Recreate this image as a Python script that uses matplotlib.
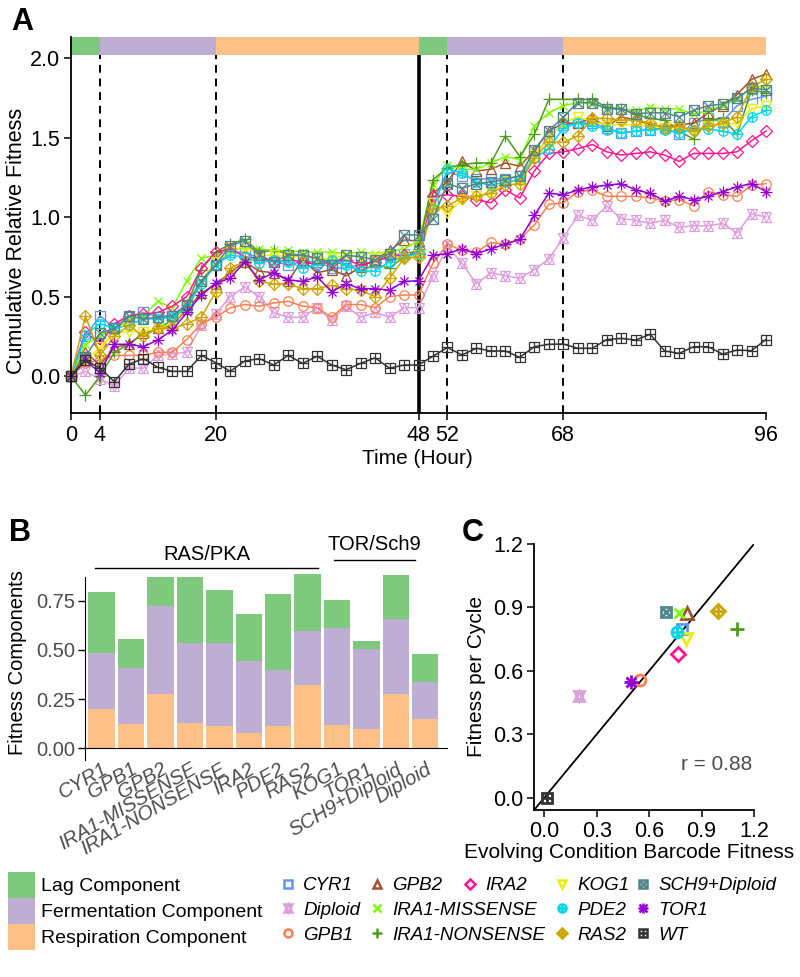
import numpy as np
import matplotlib
matplotlib.use("Agg")
import matplotlib.pyplot as plt
from matplotlib.lines import Line2D
from matplotlib.patches import Patch
from matplotlib.legend_handler import HandlerTuple

plt.rcParams['font.family'] = ['Liberation Sans', 'DejaVu Sans']

# ---------------- data ----------------
hours = np.arange(0, 97, 2)

phase_start = [0, 4, 20, 48, 52, 68]
phase_end = [4, 20, 48, 52, 68, 96]
phase_name = ['Lag', 'Fermentation', 'Respiration', 'Lag', 'Fermentation', 'Respiration']
dashed_hours = [4, 20, 52, 68]
transfer_hour = 48
time_ticks = [0, 4, 20, 48, 52, 68, 96]

cyr1 = [0.00, 0.25, 0.38, 0.30, 0.37, 0.40, 0.37, 0.38, 0.45, 0.60, 0.70, 0.78, 0.78,
        0.74, 0.72, 0.70, 0.72, 0.72, 0.68, 0.68, 0.70, 0.72, 0.76, 0.77, 0.78,
        1.10, 1.28, 1.26, 1.24, 1.24, 1.24, 1.26, 1.38, 1.51, 1.58, 1.59, 1.59,
        1.56, 1.53, 1.54, 1.55, 1.56, 1.52, 1.59, 1.62, 1.60, 1.70, 1.74, 1.76]
diploid = [0.00, 0.03, -0.02, -0.06, 0.05, 0.05, 0.13, 0.14, 0.15, 0.32, 0.39, 0.50, 0.56,
           0.50, 0.40, 0.37, 0.37, 0.43, 0.35, 0.44, 0.37, 0.40, 0.37, 0.43, 0.43,
           0.63, 0.815, 0.71, 0.58, 0.65, 0.63, 0.615, 0.67, 0.735, 0.87, 1.01, 0.98,
           1.07, 0.99, 0.98, 0.96, 0.98, 0.935, 0.945, 0.945, 0.96, 0.90, 1.02, 1.00]
gpb1 = [0.00, 0.08, 0.10, 0.13, 0.13, 0.13, 0.15, 0.15, 0.23, 0.33, 0.37, 0.43, 0.45,
        0.44, 0.46, 0.47, 0.44, 0.43, 0.37, 0.45, 0.45, 0.43, 0.50, 0.51, 0.51,
        0.71, 0.83, 0.79, 0.78, 0.84, 0.83, 0.86, 0.95, 1.08, 1.09, 1.16, 1.17,
        1.13, 1.13, 1.13, 1.12, 1.10, 1.11, 1.07, 1.16, 1.14, 1.13, 1.20, 1.21]
gpb2 = [0.00, 0.15, 0.07, 0.18, 0.20, 0.27, 0.30, 0.32, 0.42, 0.52, 0.58, 0.65, 0.72,
        0.66, 0.65, 0.60, 0.73, 0.65, 0.67, 0.63, 0.685, 0.73, 0.79, 0.855, 0.85,
        1.15, 1.22, 1.35, 1.29, 1.30, 1.34, 1.32, 1.42, 1.54, 1.59, 1.59, 1.62,
        1.57, 1.63, 1.61, 1.58, 1.57, 1.58, 1.59, 1.655, 1.70, 1.77, 1.865, 1.90]
ira1_missense = [0.00, 0.20, 0.25, 0.30, 0.35, 0.38, 0.47, 0.43, 0.60, 0.74, 0.76, 0.80, 0.80,
                 0.80, 0.79, 0.79, 0.78, 0.78, 0.78, 0.77, 0.78, 0.77, 0.78, 0.80, 0.85,
                 1.20, 1.33, 1.30, 1.30, 1.34, 1.38, 1.36, 1.575, 1.655, 1.70, 1.72, 1.71,
                 1.69, 1.68, 1.67, 1.69, 1.68, 1.68, 1.645, 1.67, 1.70, 1.74, 1.81, 1.83]
ira1_nonsense = [0.00, -0.12, 0.00, 0.15, 0.20, 0.27, 0.30, 0.35, 0.45, 0.67, 0.78, 0.83, 0.86,
                 0.78, 0.79, 0.77, 0.76, 0.74, 0.72, 0.70, 0.66, 0.70, 0.68, 0.75, 0.80,
                 1.235, 1.31, 1.33, 1.34, 1.34, 1.51, 1.38, 1.52, 1.74, 1.74, 1.74, 1.74,
                 1.69, 1.68, 1.645, 1.62, 1.61, 1.54, 1.49, 1.61, 1.62, 1.52, 1.80, 1.78]
ira2 = [0.00, 0.28, 0.20, 0.33, 0.38, 0.39, 0.40, 0.44, 0.50, 0.68, 0.78, 0.80, 0.75,
        0.74, 0.72, 0.73, 0.72, 0.70, 0.72, 0.73, 0.70, 0.72, 0.75, 0.76, 0.77,
        1.13, 1.14, 1.13, 1.11, 1.09, 1.17, 1.12, 1.29, 1.40, 1.41, 1.43, 1.456,
        1.41, 1.39, 1.40, 1.41, 1.39, 1.35, 1.40, 1.40, 1.40, 1.41, 1.48, 1.54]
kog1 = [0.00, 0.10, 0.18, 0.27, 0.28, 0.28, 0.30, 0.33, 0.43, 0.60, 0.72, 0.78, 0.82,
        0.76, 0.76, 0.75, 0.75, 0.74, 0.74, 0.76, 0.75, 0.74, 0.76, 0.74, 0.76,
        1.09, 1.025, 1.11, 1.13, 1.16, 1.225, 1.225, 1.39, 1.50, 1.59, 1.63, 1.60,
        1.58, 1.58, 1.58, 1.57, 1.56, 1.56, 1.54, 1.57, 1.58, 1.59, 1.68, 1.70]
pde2 = [0.00, 0.26, 0.33, 0.30, 0.32, 0.36, 0.36, 0.37, 0.43, 0.58, 0.70, 0.76, 0.75,
        0.71, 0.73, 0.72, 0.68, 0.70, 0.73, 0.70, 0.66, 0.66, 0.72, 0.75, 0.77,
        1.05, 1.30, 1.28, 1.22, 1.20, 1.22, 1.235, 1.37, 1.43, 1.56, 1.59, 1.575,
        1.55, 1.53, 1.54, 1.55, 1.55, 1.53, 1.55, 1.555, 1.54, 1.52, 1.63, 1.67]
ras2 = [0.00, 0.38, 0.13, 0.25, 0.32, 0.25, 0.30, 0.30, 0.33, 0.37, 0.53, 0.68, 0.72,
        0.595, 0.58, 0.58, 0.55, 0.55, 0.57, 0.55, 0.54, 0.50, 0.615, 0.74, 0.75,
        1.05, 1.07, 1.12, 1.13, 1.15, 1.20, 1.21, 1.37, 1.47, 1.47, 1.51, 1.62,
        1.62, 1.61, 1.61, 1.59, 1.56, 1.57, 1.54, 1.57, 1.59, 1.63, 1.82, 1.865]
sch9_diploid = [0.00, 0.12, 0.27, 0.30, 0.38, 0.36, 0.37, 0.38, 0.45, 0.60, 0.70, 0.82, 0.85,
                0.76, 0.72, 0.76, 0.76, 0.74, 0.70, 0.76, 0.75, 0.73, 0.77, 0.89, 0.885,
                0.99, 1.21, 1.18, 1.21, 1.22, 1.235, 1.26, 1.42, 1.54, 1.63, 1.72, 1.72,
                1.68, 1.68, 1.65, 1.655, 1.655, 1.63, 1.67, 1.70, 1.71, 1.75, 1.81, 1.80]
tor1 = [0.00, 0.10, 0.02, 0.20, 0.20, 0.185, 0.227, 0.29, 0.40, 0.51, 0.584, 0.615, 0.72,
        0.605, 0.65, 0.605, 0.595, 0.625, 0.53, 0.58, 0.55, 0.55, 0.54, 0.595, 0.60,
        0.76, 0.77, 0.80, 0.77, 0.80, 0.83, 0.86, 1.01, 1.15, 1.14, 1.17, 1.19,
        1.20, 1.21, 1.17, 1.15, 1.10, 1.13, 1.11, 1.13, 1.16, 1.19, 1.21, 1.16]
wt = [0.00, 0.10, 0.05, -0.035, 0.075, 0.11, 0.055, 0.03, 0.03, 0.13, 0.085, 0.03, 0.095,
      0.11, 0.07, 0.13, 0.08, 0.125, 0.07, 0.04, 0.08, 0.115, 0.05, 0.07, 0.07,
      0.125, 0.18, 0.133, 0.175, 0.158, 0.158, 0.118, 0.185, 0.20, 0.202, 0.175, 0.175,
      0.23, 0.237, 0.227, 0.263, 0.158, 0.143, 0.185, 0.185, 0.139, 0.164, 0.16, 0.23]

strains = ['CYR1', 'Diploid', 'GPB1', 'GPB2', 'IRA1-MISSENSE', 'IRA1-NONSENSE', 'IRA2',
           'KOG1', 'PDE2', 'RAS2', 'SCH9+Diploid', 'TOR1', 'WT']
cumulative_fitness = dict(zip(strains, [cyr1, diploid, gpb1, gpb2, ira1_missense, ira1_nonsense,
                                        ira2, kog1, pde2, ras2, sch9_diploid, tor1, wt]))

# panel B: fitness components
bar_strains = ['CYR1', 'GPB1', 'GPB2', 'IRA1-MISSENSE', 'IRA1-NONSENSE', 'IRA2', 'PDE2',
               'RAS2', 'KOG1', 'TOR1', 'SCH9+Diploid', 'Diploid']
respiration = [0.198, 0.125, 0.278, 0.127, 0.112, 0.078, 0.112, 0.322, 0.120, 0.096, 0.278, 0.151]
fermentation = [0.288, 0.281, 0.445, 0.410, 0.425, 0.364, 0.288, 0.276, 0.491, 0.408, 0.379, 0.184]
lag = [0.310, 0.148, 0.147, 0.335, 0.269, 0.239, 0.384, 0.287, 0.142, 0.041, 0.223, 0.146]
group_names = ['RAS/PKA', 'TOR/Sch9']

# panel C: evolving-condition fitness vs fitness per cycle
barcode_fitness = dict(zip(strains, [0.787, 0.199, 0.548, 0.815, 0.773, 1.101, 0.767,
                                     0.811, 0.761, 0.996, 0.695, 0.495, 0.014]))
cycle_fitness = dict(zip(strains, [0.80, 0.481, 0.557, 0.872, 0.872, 0.80, 0.68,
                                   0.749, 0.785, 0.885, 0.88, 0.549, 0.0]))
r_value = 0.88

# ---------------- styles ----------------
component_colors = {'Lag': '#7FC97F', 'Fermentation': '#BEAED4', 'Respiration': '#FDC086'}
strain_colors = {
    'CYR1': '#6495ED', 'Diploid': '#DDA0DD', 'GPB1': '#FF7F50', 'GPB2': '#A0522D',
    'IRA1-MISSENSE': '#7CFC00', 'IRA1-NONSENSE': '#4E9A1E', 'IRA2': '#FF1493',
    'KOG1': '#EEEE00', 'PDE2': '#00D8E8', 'RAS2': '#CDA500', 'SCH9+Diploid': '#53868B',
    'TOR1': '#9400D3', 'WT': '#333333'}
# R-like plotting symbols built from overlaid matplotlib markers (marker, size factor)
strain_markers = {
    'CYR1': [('s', 1.0)], 'Diploid': [('^', 1.05), ('v', 1.05)], 'GPB1': [('o', 1.05)],
    'GPB2': [('^', 1.15)], 'IRA1-MISSENSE': [('x', 0.95)], 'IRA1-NONSENSE': [('+', 1.35)],
    'IRA2': [('D', 0.95)], 'KOG1': [('v', 1.15)], 'PDE2': [('o', 1.05), ('+', 1.05)],
    'RAS2': [('D', 0.95), ('+', 1.34)], 'SCH9+Diploid': [('s', 1.0), ('x', 1.0)],
    'TOR1': [('+', 1.3), ('x', 0.95)], 'WT': [('s', 1.0), ('+', 1.0)]}

gray_text = '#4D4D4D'


def marker_handles(name, ms, mew):
    hs = []
    for m, f in strain_markers[name]:
        hs.append(Line2D([], [], linestyle='none', marker=m, markersize=ms * f,
                         markerfacecolor='none', markeredgecolor=strain_colors[name],
                         markeredgewidth=mew))
    return tuple(hs)


def plot_strain(ax, x, y, name, ms, mew, lw=None):
    for i, (m, f) in enumerate(strain_markers[name]):
        ax.plot(x, y, linestyle='-' if (lw and i == 0) else 'none',
                lw=lw if lw else 0, color=strain_colors[name],
                marker=m, markersize=ms * f, markerfacecolor='none',
                markeredgecolor=strain_colors[name], markeredgewidth=mew, clip_on=False)


def center_labels(ax, xpos, ypos):
    ax.xaxis.label.set_va('center')
    ax.yaxis.label.set_va('center')
    ax.xaxis.set_label_coords(*xpos)
    ax.yaxis.set_label_coords(*ypos)


fig = plt.figure(figsize=(8, 9.77), dpi=100)
W, H = 800.0, 977.0

# ---------------- panel A ----------------
axA = fig.add_axes([71 / W, 1 - 412.7 / H, 695 / W, 375.4 / H])
axA.set_xlim(0, 96)
axA.set_ylim(-0.23, 2.13)
axA.broken_barh([(s, e - s) for s, e in zip(phase_start, phase_end)], (2.02, 0.11),
                facecolors=[component_colors[p] for p in phase_name])
axA.vlines(dashed_hours, -0.23, 2.02, colors='black', linestyles=(0, (4, 3)), lw=1.4)
axA.vlines(transfer_hour, -0.23, 2.02, colors='black', lw=2.6)
for name in strains:
    plot_strain(axA, hours, cumulative_fitness[name], name, ms=6.5, mew=0.9, lw=1.1)
axA.set_xticks(time_ticks)
axA.set_yticks([0.0, 0.5, 1.0, 1.5, 2.0])
axA.set_yticklabels(['0.0', '0.5', '1.0', '1.5', '2.0'])
axA.tick_params(labelsize=15.5, length=5, width=1.1, pad=3)
axA.tick_params(axis='x', pad=4)
for s in ['top', 'right']:
    axA.spines[s].set_visible(False)
for s in ['left', 'bottom']:
    axA.spines[s].set_linewidth(1.3)
axA.set_xlabel('Time (Hour)', fontsize=15)
axA.set_ylabel('Cumulative Relative Fitness', fontsize=15.5)
center_labels(axA, (0.499, -0.121), (-0.078, 0.457))
fig.text(22 / W, 1 - 22 / H, 'A', fontsize=22, fontweight='bold', ha='center', va='center')

# ---------------- panel B ----------------
axB = fig.add_axes([85 / W, 1 - 760 / H, 361.7 / W, 183 / H])
xb = np.arange(len(bar_strains))
axB.bar(xb, respiration, width=0.9, color=component_colors['Respiration'], clip_on=False)
axB.bar(xb, fermentation, width=0.9, bottom=respiration,
        color=component_colors['Fermentation'], clip_on=False)
axB.bar(xb, lag, width=0.9, bottom=np.add(respiration, fermentation),
        color=component_colors['Lag'], clip_on=False)
axB.set_xlim(-0.568, 11.73)
axB.set_ylim(-0.059, 0.87)
axB.spines['bottom'].set_position(('data', 0))
for s in ['top', 'right']:
    axB.spines[s].set_visible(False)
axB.set_yticks([0.0, 0.25, 0.5, 0.75])
axB.set_yticklabels(['0.00', '0.25', '0.50', '0.75'])
axB.tick_params(axis='y', labelsize=14.5, labelcolor=gray_text, length=5, width=1.0, pad=2)
axB.set_xticks(xb)
axB.set_xticklabels(bar_strains, rotation=30, ha='right', va='top', rotation_mode='anchor',
                    fontsize=14.5, color=gray_text, style='italic')
axB.tick_params(axis='x', length=0, pad=8)
axB.set_ylabel('Fitness Components', fontsize=14.5)
axB.yaxis.label.set_va('center')
axB.yaxis.set_label_coords(-0.188, 0.533)
# pathway group annotations
for name, (x0, x1), ytxt, yline in zip(group_names, [(-0.23, 7.36), (7.9, 10.65)],
                                       [0.982, 1.033], [0.918, 0.957]):
    axB.plot([x0, x1], [yline, yline], color='black', lw=1.0, clip_on=False)
    axB.text((x0 + x1) / 2, ytxt, name, fontsize=14.5, ha='center', va='center')
fig.text(20 / W, 1 - 533 / H, 'B', fontsize=22, fontweight='bold', ha='center', va='center')

# ---------------- panel C ----------------
axC = fig.add_axes([534.3 / W, 1 - 810 / H, 219.7 / W, 266 / H])
axC.set_xlim(-0.057, 1.2)
axC.set_ylim(-0.058, 1.2)
axC.axline((0, 0), slope=1, color='black', lw=1.3)
for name in strains:
    plot_strain(axC, [barcode_fitness[name]], [cycle_fitness[name]], name, ms=7.5, mew=2.0)
ticksC = [0.0, 0.3, 0.6, 0.9, 1.2]
axC.set_xticks(ticksC)
axC.set_yticks(ticksC)
axC.set_xticklabels(['%.1f' % t for t in ticksC])
axC.set_yticklabels(['%.1f' % t for t in ticksC])
axC.tick_params(labelsize=15.5, length=5, width=1.1, pad=3)
for s in ['top', 'right']:
    axC.spines[s].set_visible(False)
for s in ['left', 'bottom']:
    axC.spines[s].set_linewidth(1.3)
axC.set_xlabel('Evolving Condition Barcode Fitness', fontsize=15)
axC.set_ylabel('Fitness per Cycle', fontsize=15)
center_labels(axC, (0.431, -0.158), (-0.265, 0.502))
axC.text(0.987, 0.155, 'r = %.2f' % r_value, fontsize=15, color=gray_text,
         ha='center', va='center')
fig.text(473 / W, 1 - 533 / H, 'C', fontsize=22, fontweight='bold', ha='center', va='center')

# ---------------- legends ----------------
comp_handles = [Patch(facecolor=component_colors[c], edgecolor='none')
                for c in ['Lag', 'Fermentation', 'Respiration']]
fig.legend(comp_handles, ['Lag Component', 'Fermentation Component', 'Respiration Component'],
           loc='upper left', bbox_to_anchor=(8 / W, 1 - 872 / H), frameon=False,
           fontsize=14, handlelength=1.4, handleheight=1.68, labelspacing=0.0,
           handletextpad=0.3, borderpad=0, borderaxespad=0)

legend_columns = [['CYR1', 'Diploid', 'GPB1'], ['GPB2', 'IRA1-MISSENSE', 'IRA1-NONSENSE'],
                  ['IRA2'], ['KOG1', 'PDE2', 'RAS2'], ['SCH9+Diploid', 'TOR1', 'WT']]
legend_x = [280, 369, 462, 554, 635]
for col, x in zip(legend_columns, legend_x):
    fig.legend([marker_handles(n, 5.5, 1.8) for n in col], col,
               handler_map={tuple: HandlerTuple(ndivide=1)},
               loc='upper left', bbox_to_anchor=(x / W, 1 - 877 / H), frameon=False,
               handlelength=0.8, handletextpad=0.45, labelspacing=0.41,
               borderpad=0, borderaxespad=0, prop={'style': 'italic', 'size': 13.5})

fig.savefig('out.png', dpi=100)
